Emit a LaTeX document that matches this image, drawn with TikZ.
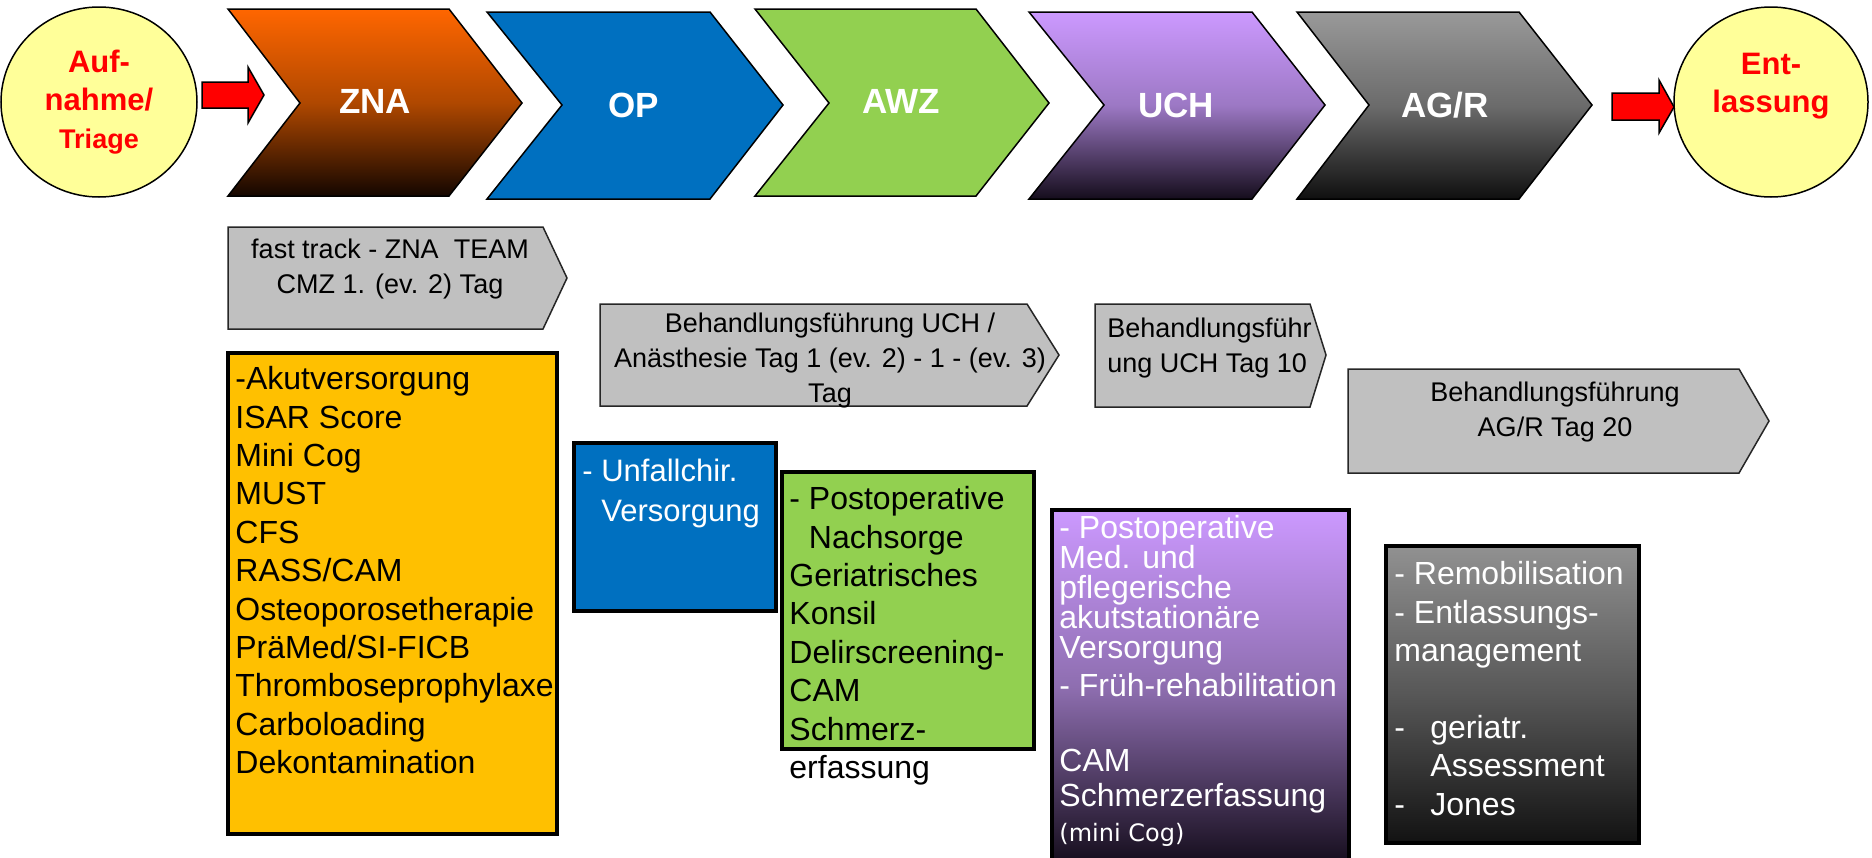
\documentclass[tikz,border=0pt]{standalone}
\usepackage{fontspec}
\setmainfont{Liberation Sans}
\newfontfamily\dejavu{DejaVu Sans}
\usetikzlibrary{shapes.geometric}
\newcommand\tightlines{\lineskiplimit=-20pt\relax}

\definecolor{ellyellow}{HTML}{FFFF99}
\definecolor{arrred}{HTML}{FF0000}
\definecolor{znaorange}{HTML}{FF6600}
\definecolor{znamid}{HTML}{B04800}
\definecolor{znabot}{HTML}{140600}
\definecolor{opblue}{HTML}{0070C0}
\definecolor{awzgreen}{HTML}{92D050}
\definecolor{lav}{HTML}{CC99FF}
\definecolor{lavmid}{HTML}{9C78C4}
\definecolor{lavbot}{HTML}{150D1C}
\definecolor{boxlavmid}{HTML}{8E6EB0}
\definecolor{grtop}{HTML}{999999}
\definecolor{grmid}{HTML}{6B6B6B}
\definecolor{grbot}{HTML}{0F0F0F}
\definecolor{boxgrtop}{HTML}{919191}
\definecolor{boxgrmid}{HTML}{575757}
\definecolor{boxgrbot}{HTML}{121212}
\definecolor{pentgray}{HTML}{C0C0C0}
\definecolor{boxorange}{HTML}{FFC000}

\begin{document}
\begin{tikzpicture}[x=0.5pt,y=-0.5pt,
  chev/.style={draw=black, line width=0.75pt, line join=miter},
  chevlabel/.style={text=white, font=\bfseries\fontsize{17.5}{21}\selectfont, inner sep=0},
  pent/.style={draw=black!85, fill=pentgray, line width=0.75pt},
  penttext/.style={font=\fontsize{13.5}{17.5}\selectfont, inner sep=0},
  listbox/.style={draw=black, line width=1.75pt},
  listtext/.style={font=\fontsize{16}{19.2}\selectfont, inner sep=0, align=left, anchor=north west},
  endpoint/.style={ellipse, draw=black, line width=0.75pt, fill=ellyellow, inner sep=0, text=arrred, font=\bfseries\fontsize{15.5}{19}\selectfont, align=center},
  blockarrow/.style={fill=arrred, draw=black, line width=0.75pt}
]
\useasboundingbox (0,0) rectangle (1872,857);

% start / end
\node[endpoint, minimum width=98pt, minimum height=95pt] (auf) at (99,102) {Auf-\\nahme/\\{\fontsize{13.5}{19}\selectfont Triage}};
\node[endpoint, minimum width=97pt, minimum height=95pt] (ent) at (1771,102) {Ent-\\lassung\\\mbox{}};

% red block arrows
\draw[blockarrow] (202,82) -- (248,82) -- (248,67) -- (264,95) -- (248,123) -- (248,108) -- (202,108) -- cycle;
\draw[blockarrow] (1612,93) -- (1659,93) -- (1659,80) -- (1674,107) -- (1659,133) -- (1659,120) -- (1612,120) -- cycle;

% chevrons
\shadedraw[chev, top color=znaorange, bottom color=znabot, middle color=znamid] (228,9) -- (449,9) -- (522,103) -- (449,196) -- (228,196) -- (300,103) -- cycle;
\filldraw[chev, fill=opblue] (487,12) -- (710,12) -- (783,105) -- (710,199) -- (487,199) -- (562,105) -- cycle;
\filldraw[chev, fill=awzgreen] (755,9) -- (976,9) -- (1049,103) -- (976,196) -- (755,196) -- (829,103) -- cycle;
\shadedraw[chev, top color=lav, bottom color=lavbot, middle color=lavmid] (1029,12) -- (1252,12) -- (1325,105) -- (1252,199) -- (1029,199) -- (1104,105) -- cycle;
\shadedraw[chev, top color=grtop, bottom color=grbot, middle color=grmid] (1297,12) -- (1519,12) -- (1592,105) -- (1519,199) -- (1297,199) -- (1369,105) -- cycle;

\node[chevlabel] (zna) at (375,101) {ZNA};
\node[chevlabel] (op) at (634,105) {OP};
\node[chevlabel] (awz) at (901,101) {AWZ};
\node[chevlabel] (uch) at (1176,105) {UCH};
\node[chevlabel] (agr) at (1445,105) {AG/R};

% gray pentagons
\draw[pent] (228,227) -- (543,227) -- (567,278) -- (543,329) -- (228,329) -- cycle;
\node[penttext, anchor=north, align=center] (ft) at (390,239) {fast track - ZNA\ \ TEAM\\CMZ 1. (ev. 2) Tag};

\draw[pent] (600,304) -- (1027,304) -- (1059,355) -- (1027,406) -- (600,406) -- cycle;
\node[penttext, anchor=north, align=center] (bu) at (830,313) {Behandlungsführung UCH /\\Anästhesie Tag 1 (ev. 2) - 1 - (ev. 3)\\Tag};

\draw[pent] (1095,304) -- (1310,304) -- (1326,355) -- (1310,407) -- (1095,407) -- cycle;
\node[penttext, anchor=north west, align=left] (bu10) at (1107,318) {Behandlungsführ\\ung UCH Tag 10};

\draw[pent] (1348,369) -- (1739,369) -- (1769,421) -- (1739,473) -- (1348,473) -- cycle;
\node[penttext, anchor=north, align=center] (ag20) at (1555,382) {Behandlungsführung\\AG/R Tag 20};

% list boxes
\draw[listbox, fill=boxorange] (228,353) rectangle (557,834);
\node[listtext] (akut) at (235,366) {-Akutversorgung\\ISAR Score\\Mini Cog\\MUST\\CFS\\RASS/CAM\\Osteoporosetherapie\\PräMed/SI-FICB\\Thromboseprophylaxe\\Carboloading\\Dekontamination};

\draw[listbox, fill=opblue] (574,443) rectangle (776,611);
\node[listtext, text=white, font=\fontsize{15.5}{20}\selectfont] (unf) at (582,459) {- Unfallchir.\\\phantom{- }Versorgung};

\draw[listbox, fill=awzgreen] (782,472) rectangle (1034,749);
\node[listtext] (post) at (789,486) {- Postoperative\\\phantom{- }Nachsorge\\Geriatrisches\\Konsil\\Delirscreening-\\CAM\\Schmerz-\\erfassung};

\shadedraw[listbox, top color=lav, bottom color=lavbot, middle color=boxlavmid] (1052,510) rectangle (1349,864);
\node[listtext, text=white, font=\fontsize{16}{15}\selectfont\tightlines] (pm) at (1059,515) {- Postoperative\\Med. und\\pflegerische\\akutstationäre\\Versorgung\\[4pt]- Früh-rehabilitation\\[22.5pt]CAM\\[2.5pt]Schmerzerfassung\\[2.5pt]{\dejavu\fontsize{12}{15}\selectfont(mini Cog)}};

\shadedraw[listbox, top color=boxgrtop, bottom color=boxgrbot, middle color=boxgrmid] (1386,546) rectangle (1639,843);
\node[listtext, text=white] (remo) at (1394,561) {- Remobilisation\\- Entlassungs-\\management\\[19.2pt]\makebox[18pt][l]{-}geriatr.\\\hspace*{18pt}Assessment\\\makebox[18pt][l]{-}Jones};
\end{tikzpicture}
\end{document}
